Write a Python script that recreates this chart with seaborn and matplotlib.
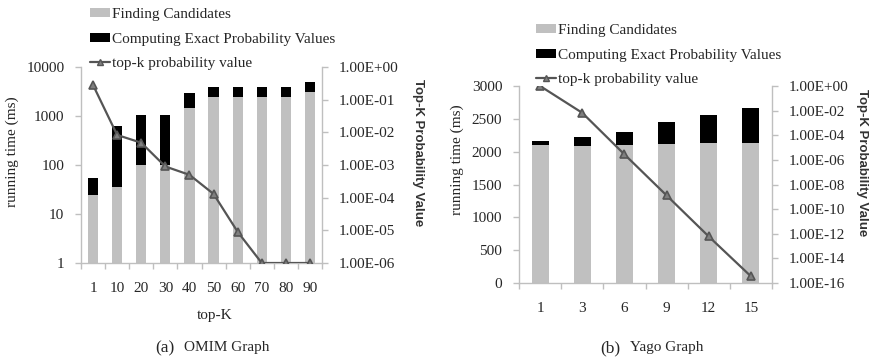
import numpy as np
import pandas as pd
import matplotlib
matplotlib.use("Agg")
import matplotlib.pyplot as plt
from matplotlib.patches import Patch
from matplotlib.lines import Line2D
from matplotlib.ticker import FixedLocator, FuncFormatter, NullFormatter
import seaborn as sns

# ---- OMIM graph ----
omim_k = ["1", "10", "20", "30", "40", "50", "60", "70", "80", "90"]
omim_finding = [25, 35, 100, 100, 1450, 2400, 2400, 2400, 2400, 3100]
omim_computing = [29, 595, 950, 950, 1550, 1500, 1500, 1500, 1500, 1800]
omim_prob = [2.8e-1, 8.3e-3, 4.8e-3, 9.0e-4, 5.0e-4, 1.3e-4, 9.0e-6, 1.0e-6, 1.0e-6, 1.0e-6]

# ---- Yago graph ----
yago_k = ["1", "3", "6", "9", "12", "15"]
yago_finding = [2100, 2085, 2100, 2115, 2125, 2125]
yago_computing = [60, 140, 200, 330, 430, 535]
yago_prob = [1.0, 6.6e-3, 2.8e-6, 1.3e-9, 6.0e-13, 3.5e-16]

legend_labels = ["Finding Candidates", "Computing Exact Probability Values",
                 "top-k probability value"]

sns.set_theme(style="white")
plt.rcParams["font.family"] = ["Liberation Serif", "DejaVu Serif"]
plt.rcParams["font.size"] = 11

GRAY = "#c0c0c0"
LINE = "#555555"
MARK = "#7f7f7f"
SPINE = "#bfbfbf"
W, H = 875, 363

fig = plt.figure(figsize=(8.75, 3.63), dpi=100)


def px(x, y):
    return x / W, 1 - y / H


def style_axes(ax, ax2, n):
    for a in (ax, ax2):
        a.spines["top"].set_visible(False)
        for s in ("left", "right", "bottom"):
            a.spines[s].set_color(SPINE)
            a.spines[s].set_linewidth(1.0)
    ax.spines["right"].set_visible(False)
    ax2.spines["left"].set_visible(False)
    ax2.spines["bottom"].set_visible(False)
    ax.set_xlim(-0.5, n - 0.5)
    ax.xaxis.set_minor_locator(FixedLocator(np.arange(-0.5, n, 1.0)))
    ax.tick_params(axis="x", which="major", length=0, pad=14, labelsize=11)
    ax.tick_params(axis="x", which="minor", length=4, width=1, color=SPINE,
                   direction="out", bottom=True)
    ax.tick_params(axis="y", which="major", length=4, width=1, color=SPINE,
                   direction="out", left=True, pad=8, labelsize=11)
    ax.tick_params(axis="y", which="minor", length=0)
    ax2.tick_params(axis="y", which="major", length=4, width=1, color=SPINE,
                    direction="out", right=True, pad=8, labelsize=11)
    ax2.tick_params(axis="y", which="minor", length=0)
    ax.set_xlabel("")
    ax.set_ylabel("")
    ax2.set_xlabel("")
    ax2.set_ylabel("")
    ax.grid(False)
    ax2.grid(False)


def draw_panel(rect, cats, finding, computing, prob, logy, ylim, yticks,
               ptick_exps, bar_w):
    ax = fig.add_axes(rect)
    if logy:
        ax.set_yscale("log")
    df = pd.DataFrame({"k": cats,
                       "finding": finding,
                       "total": np.array(finding) + np.array(computing),
                       "prob": prob})
    sns.barplot(data=df, x="k", y="total", color="black", saturation=1,
                width=bar_w, linewidth=0, ax=ax)
    sns.barplot(data=df, x="k", y="finding", color=GRAY, saturation=1,
                width=bar_w, linewidth=0, ax=ax)
    ax.set_ylim(*ylim)
    ax.yaxis.set_major_locator(FixedLocator(yticks))
    ax.yaxis.set_major_formatter(FuncFormatter(lambda v, p: f"{v:g}"))
    ax.yaxis.set_minor_formatter(NullFormatter())

    ax2 = ax.twinx()
    ax2.set_yscale("log")
    sns.pointplot(data=df, x="k", y="prob", color=LINE, markers="^",
                  linestyles="-", linewidth=1.6, markersize=5.5,
                  markerfacecolor=MARK, markeredgecolor=LINE, ax=ax2)
    ax2.set_ylim(10.0 ** ptick_exps[-1], 10.0 ** ptick_exps[0])
    ax2.yaxis.set_major_locator(FixedLocator([10.0 ** e for e in ptick_exps]))
    ax2.yaxis.set_major_formatter(FuncFormatter(lambda v, p: f"{v:.2E}"))
    ax2.yaxis.set_minor_formatter(NullFormatter())
    style_axes(ax, ax2, len(cats))
    return ax, ax2


axA, axA2 = draw_panel([81 / W, 1 - 263 / H, 241 / W, 196 / H],
                       omim_k, omim_finding, omim_computing, omim_prob,
                       True, (1, 10000), [1, 10, 100, 1000, 10000],
                       list(range(0, -7, -1)), 0.42)
axB, axB2 = draw_panel([519 / W, 1 - 283 / H, 253 / W, 197 / H],
                       yago_k, yago_finding, yago_computing, yago_prob,
                       False, (0, 3000), list(range(0, 3001, 500)),
                       list(range(0, -17, -2)), 0.40)

# legends
handles = [Patch(facecolor=GRAY, edgecolor="none"),
           Patch(facecolor="black", edgecolor="none"),
           Line2D([], [], color=LINE, lw=1.6, marker="^", markersize=5,
                  markerfacecolor=MARK, markeredgecolor=LINE)]
for (x0, y0) in [(90, 8), (536, 24)]:
    fig.legend(handles, legend_labels, loc="upper left",
               bbox_to_anchor=px(x0, y0), bbox_transform=fig.transFigure,
               frameon=False, borderpad=0, borderaxespad=0, fontsize=11,
               handlelength=1.3, handleheight=0.55, handletextpad=0.15,
               labelspacing=0.76)

# axis titles
for (x, y) in [(12, 152), (457, 160)]:
    fig.text(*px(x, y), "running time (ms)", rotation=90, ha="center",
             va="center", fontsize=11)
for (x, y) in [(418, 153), (862, 163)]:
    fig.text(*px(x, y), "Top-K Probability Value", rotation=-90, ha="center",
             va="center", fontsize=9.5, fontweight="bold",
             family=["Liberation Sans", "DejaVu Sans"], color="#333333")
fig.text(*px(215, 315), "top-K", ha="center", va="center", fontsize=11)

# captions
fig.text(*px(174, 348), "(a)", ha="right", va="center", fontsize=12.5)
fig.text(*px(184, 348), "OMIM Graph", ha="left", va="center", fontsize=11)
fig.text(*px(620, 348), "(b)", ha="right", va="center", fontsize=12.5)
fig.text(*px(630, 348), "Yago Graph", ha="left", va="center", fontsize=11)

fig.savefig("out.png", dpi=100)
